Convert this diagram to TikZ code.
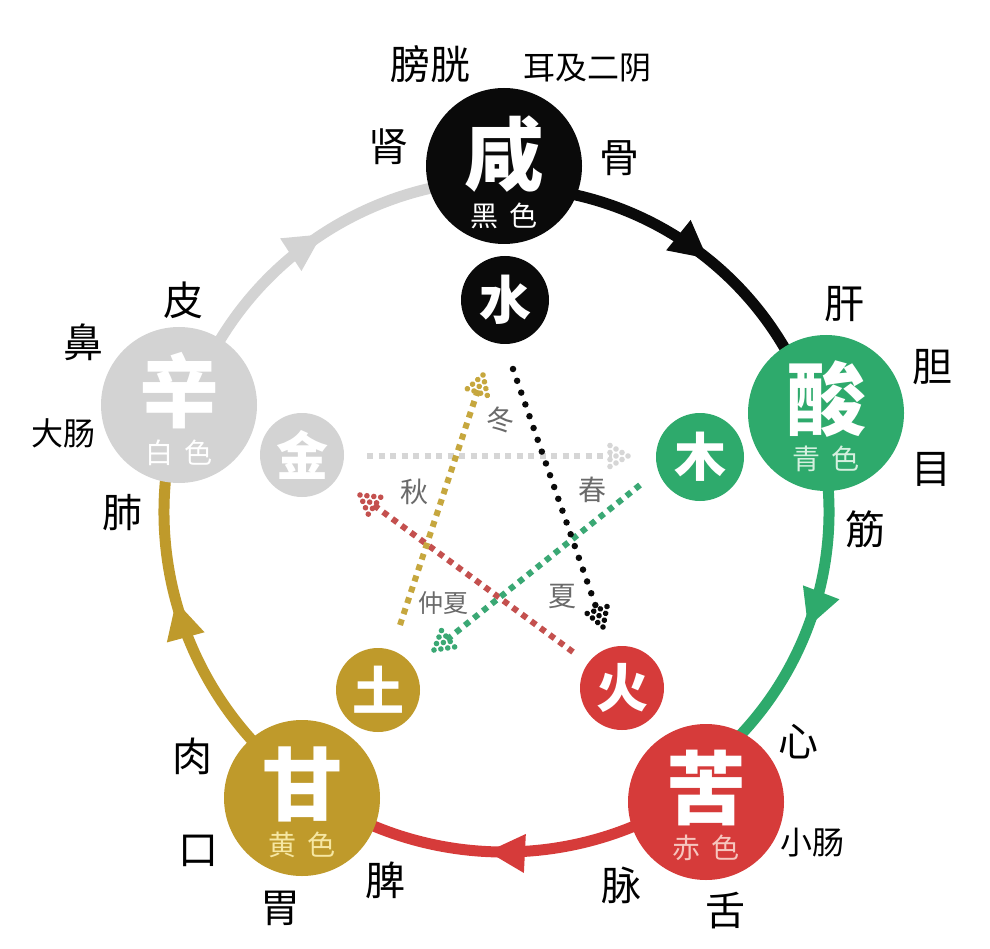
\documentclass[tikz,border=0pt]{standalone}
\usepackage{fontspec}
\setmainfont{Noto Sans CJK SC}
\usetikzlibrary{arrows.meta,decorations.markings}
\definecolor{cblack}{HTML}{0A0A0A}
\definecolor{cgreen}{HTML}{2EAA6C}
\definecolor{cred}{HTML}{D63B3A}
\definecolor{cgold}{HTML}{BF9A2B}
\definecolor{cgray}{HTML}{D3D3D3}
\definecolor{dgold}{HTML}{C6A73E}
\definecolor{dred}{HTML}{C4504E}
\definecolor{dgreen}{HTML}{3AA874}
\definecolor{dgray}{HTML}{D6D6D6}
\definecolor{seasoncol}{HTML}{6A6A6A}
\definecolor{subgreen}{HTML}{D5F0DF}
\definecolor{subred}{HTML}{F6C6BE}
\definecolor{subgold}{HTML}{F6E7A2}
\tikzset{dothead/.pic={\foreach \a/\b in {0/0,-6/3.5,-6/-3.5,-12/0,-12/7,-12/-7,-18/3.5,-18/-3.5,-18/10.5,-18/-10.5}{\fill (\a,\b) circle[radius=2.8];}}}
\begin{document}
\begin{tikzpicture}[x=1pt,y=1pt,
  big/.style={circle,fill=#1,minimum size=156pt,inner sep=0pt},
  small/.style={circle,fill=#1,minimum size=88pt,inner sep=0pt},
  bigchar/.style={text=white,font=\fontsize{80}{80}\selectfont\bfseries},
  smallchar/.style={text=white,font=\fontsize{52}{52}\selectfont\bfseries},
  subtxt/.style={text=#1,font=\fontsize{28}{28}\selectfont},
  organ/.style={text=black,font=\fontsize{40}{40}\selectfont},
  organs/.style={text=black,font=\fontsize{32}{32}\selectfont},
  seasontxt/.style={text=seasoncol,font=\fontsize{28}{28}\selectfont},
  ring/.style={line width=11pt, postaction={decorate}, decoration={markings, mark=at position 0.54 with {\arrow{Triangle[length=38pt,width=36pt]}}}},
  sq/.style={line width=6pt, dash pattern=on 6pt off 5.5pt, shorten >=16pt},
  rd/.style={line width=6.5pt, line cap=round, dash pattern=on 0pt off 12.5pt, shorten >=16pt},
  tiphead/.style={pos=1, sloped, allow upside down, color=#1}
]
\useasboundingbox (0,-949) rectangle (990,0);
\fill[white] (0,-949) rectangle (990,0);
\coordinate (O) at (504,-512);

% ring arcs
\draw[ring, cblack] ([shift={(90:325)}]O) arc[start angle=90, end angle=18, radius=325];
\draw[ring, cgreen] ([shift={(18:325)}]O) arc[start angle=18, end angle=-54, radius=325];
\draw[ring, cred] ([shift={(-54:340)}]O) arc[start angle=-54, end angle=-126, radius=340];
\draw[ring, cgold] ([shift={(-126:340)}]O) arc[start angle=-126, end angle=-198, radius=340];
\draw[ring, cgray] ([shift={(162:332)}]O) arc[start angle=162, end angle=90, radius=332];

% big circles
\node[big=cblack] (xian) at (504,-166) {};
\node[big=cgreen] (suan) at (826,-413) {};
\node[big=cred] (ku) at (706,-802) {};
\node[big=cgold] (gan) at (302,-798) {};
\node[big=cgray] (xin) at (179,-405) {};

\node[bigchar] (xianc) at ([yshift=12]xian) {咸};
\node[subtxt=white] (xians) at ([yshift=-50]xian) {黑\hspace{12pt}色};
\node[bigchar] (suanc) at ([yshift=14]suan) {酸};
\node[subtxt=subgreen] (suans) at ([yshift=-46]suan) {青\hspace{12pt}色};
\node[bigchar] (kuc) at ([yshift=14]ku) {苦};
\node[subtxt=subred] (kus) at ([yshift=-46]ku) {赤\hspace{12pt}色};
\node[bigchar] (ganc) at ([yshift=14]gan) {甘};
\node[subtxt=subgold] (gans) at ([yshift=-47]gan) {黄\hspace{12pt}色};
\node[bigchar] (xinc) at ([yshift=14]xin) {辛};
\node[subtxt=white] (xins) at ([yshift=-48]xin) {白\hspace{12pt}色};

% small circles
\node[small=cblack] (shui) at (505,-300) {};
\node[small=cgreen] (mu) at (700,-457) {};
\node[small=cred, minimum size=84pt] (huo) at (622,-688) {};
\node[small=cgold, minimum size=84pt] (tu) at (378,-690) {};
\node[small=cgray, minimum size=84pt] (jin) at (302,-455) {};
\node[smallchar] (shuic) at (shui) {水};
\node[smallchar] (muc) at (mu) {木};
\node[smallchar] (huoc) at (huo) {火};
\node[smallchar] (tuc) at (tu) {土};
\node[smallchar] (jinc) at (jin) {金};

% star (dotted arrows)
\coordinate (g1) at (400,-625); \coordinate (g2) at (483,-375);
\coordinate (k1) at (513,-369); \coordinate (k2) at (603,-627);
\coordinate (r1) at (573,-652); \coordinate (r2) at (360,-495);
\coordinate (w1) at (367,-456); \coordinate (w2) at (628,-456);
\coordinate (n1) at (640,-485); \coordinate (n2) at (434,-650);
\draw[sq, dgray] (w1) -- (w2) pic[tiphead=dgray]{dothead};
\draw[sq, dred] (r1) -- (r2) pic[tiphead=dred]{dothead};
\draw[sq, dgreen] (n1) -- (n2) pic[tiphead=dgreen]{dothead};
\draw[sq, dgold] (g1) -- (g2) pic[tiphead=dgold]{dothead};
\draw[rd, cblack] (k1) -- (k2) pic[tiphead=cblack]{dothead};

% seasons
\node[seasontxt] (dong) at (500,-420) {冬};
\node[seasontxt] (qiu) at (414,-492) {秋};
\node[seasontxt] (chun) at (592,-490) {春};
\node[seasontxt, font=\fontsize{25}{25}\selectfont] (zhongxia) at (443,-603) {仲夏};
\node[seasontxt] (xia) at (562,-597) {夏};

% organs
\node[organ] (pangguang) at (430,-64) {膀胱};
\node[organs] (erji) at (587,-68) {耳及二阴};
\node[organ] (shen) at (388,-147) {肾};
\node[organ] (gu) at (619,-158) {骨};
\node[organ] (gn) at (844,-304) {肝};
\node[organ] (dan) at (932,-367) {胆};
\node[organ] (muy) at (931,-469) {目};
\node[organ] (jn) at (865,-529) {筋};
\node[organ] (xinz) at (798,-742) {心};
\node[organs] (xiaochang) at (812,-843) {小肠};
\node[organ] (she) at (725,-911) {舌};
\node[organ] (mai) at (621,-885) {脉};
\node[organ] (pi) at (385,-880) {脾};
\node[organ] (wei) at (280,-908) {胃};
\node[organ] (kou) at (198,-851) {口};
\node[organ] (rou) at (192,-756) {肉};
\node[organ] (fei) at (122,-513) {肺};
\node[organs] (dachang) at (63,-433) {大肠};
\node[organ] (bi) at (83,-342) {鼻};
\node[organ] (pif) at (183,-300) {皮};
\end{tikzpicture}
\end{document}
